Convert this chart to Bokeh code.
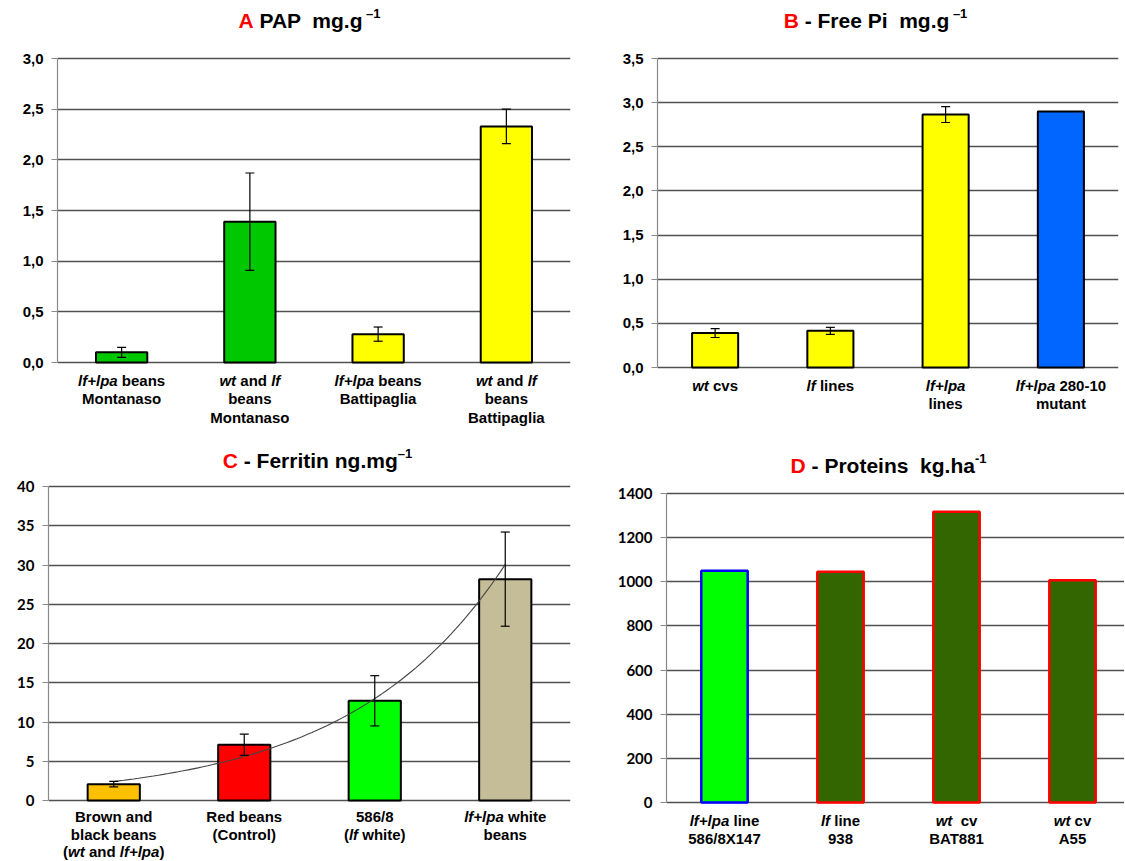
import glob
import re
import numpy as np
from bokeh.plotting import figure
from bokeh.models import (FixedTicker, Range1d, ColumnDataSource, Whisker,
                          TeeHead, CustomJSTickFormatter)
from bokeh.core.properties import value, field
from bokeh.layouts import column, row
from bokeh.embed import file_html
from bokeh.resources import INLINE

# ---------------- data ----------------
positions = [1, 2, 3, 4]

a_values = [0.10, 1.39, 0.28, 2.33]
a_errors = [0.05, 0.48, 0.07, 0.17]
a_colors = ["#00C800", "#00C800", "#FFFF00", "#FFFF00"]
a_ticks = [0, 0.5, 1.0, 1.5, 2.0, 2.5, 3.0]
a_tick_labels = ["0,0", "0,5", "1,0", "1,5", "2,0", "2,5", "3,0"]
a_labels = [
    [[("lf+lpa", "i"), (" beans", "n")], [("Montanaso", "n")]],
    [[("wt", "i"), (" and ", "n"), ("lf", "i")], [("beans", "n")], [("Montanaso", "n")]],
    [[("lf+lpa", "i"), (" beans", "n")], [("Battipaglia", "n")]],
    [[("wt", "i"), (" and ", "n"), ("lf", "i")], [("beans", "n")], [("Battipaglia", "n")]],
]
a_title = [("A", "r"), (" PAP  mg.g", "n"), (" \u20131", "s")]

b_values = [0.39, 0.415, 2.865, 2.90]
b_errors = [0.05, 0.04, 0.09, None]
b_colors = ["#FFFF00", "#FFFF00", "#FFFF00", "#0066FF"]
b_ticks = [0, 0.5, 1.0, 1.5, 2.0, 2.5, 3.0, 3.5]
b_tick_labels = ["0,0", "0,5", "1,0", "1,5", "2,0", "2,5", "3,0", "3,5"]
b_labels = [
    [[("wt", "i"), (" cvs", "n")]],
    [[("lf", "i"), (" lines", "n")]],
    [[("lf+lpa", "i")], [("lines", "n")]],
    [[("lf+lpa", "i"), (" 280-10", "n")], [("mutant", "n")]],
]
b_title = [("B", "r"), (" - Free Pi  mg.g", "n"), (" \u20131", "s")]

c_values = [2.08, 7.1, 12.7, 28.2]
c_errors = [0.35, 1.35, 3.2, 6.0]
c_colors = ["#FFC000", "#FF0000", "#00FF00", "#C4BD97"]
c_ticks = [0, 5, 10, 15, 20, 25, 30, 35, 40]
c_tick_labels = ["0", "5", "10", "15", "20", "25", "30", "35", "40"]
c_labels = [
    [[("Brown and", "n")], [("black beans", "n")],
     [("(", "n"), ("wt", "i"), (" and ", "n"), ("lf+lpa", "i"), (")", "n")]],
    [[("Red beans", "n")], [("(Control)", "n")]],
    [[("586/8", "n")], [("(", "n"), ("lf", "i"), (" white)", "n")]],
    [[("lf+lpa", "i"), (" white", "n")], [("beans", "n")]],
]
c_title = [("C", "r"), (" - Ferritin ng.mg", "n"), ("\u20131", "s")]

d_values = [1050, 1045, 1317, 1007]
d_fill = ["#00FF00", "#336600", "#336600", "#336600"]
d_line = ["#0000FF", "#FF0000", "#FF0000", "#FF0000"]
d_ticks = [0, 200, 400, 600, 800, 1000, 1200, 1400]
d_tick_labels = ["0", "200", "400", "600", "800", "1000", "1200", "1400"]
d_labels = [
    [[("lf+lpa", "i"), (" line", "n")], [("586/8X147", "n")]],
    [[("lf", "i"), (" line", "n")], [("938", "n")]],
    [[("wt", "i"), ("  cv", "n")], [("BAT881", "n")]],
    [[("wt", "i"), (" cv", "n")], [("A55", "n")]],
]
d_title = [("D", "r"), (" - Proteins  kg.ha", "n"), ("-1", "s")]

# ---------------- text measuring ----------------
_font_cache = {}


def _font_path(italic):
    name = "LiberationSans-BoldItalic.ttf" if italic else "LiberationSans-Bold.ttf"
    for base in ("/usr/share/fonts", "/usr/local/share/fonts", "/usr/lib"):
        hits = glob.glob(base + "/**/" + name, recursive=True)
        if hits:
            return hits[0]
    return None


def text_width(text, size, italic=False):
    if not text:
        return 0.0
    key = (size, italic)
    if key not in _font_cache:
        f = None
        try:
            from PIL import ImageFont
            path = _font_path(italic)
            if path:
                f = ImageFont.truetype(path, size)
        except Exception:
            f = None
        _font_cache[key] = f
    f = _font_cache[key]
    if f is not None:
        try:
            return f.getlength(text)
        except Exception:
            pass
    return len(text) * size * 0.58


FONT = "Liberation Sans"


class Panel:
    def __init__(self, fig_left, fig_top, w, h, bl, br, y0px, ytop_px, ytop_val,
                 spacing, ticks, tick_labels, tick_font, tick_size):
        self.fl = fig_left + bl
        fw = w - bl - br
        self.sx = spacing
        self.y0px = y0px
        self.sy = (y0px - ytop_px) / ytop_val
        xr = (0.5, 0.5 + fw / spacing)
        yr = (-(fig_top + h - y0px) / self.sy, (y0px - fig_top) / self.sy)
        p = figure(width=w, height=h, x_range=Range1d(*xr), y_range=Range1d(*yr),
                   output_backend="svg", toolbar_location=None, tools="", title=None)
        p.min_border_left = bl
        p.min_border_right = br
        p.min_border_top = 0
        p.min_border_bottom = 0
        p.outline_line_color = None
        p.background_fill_color = "white"
        p.border_fill_color = "white"
        p.xaxis.visible = False
        p.xgrid.visible = False
        p.ygrid.grid_line_color = "#505050"
        p.ygrid.grid_line_width = 1.4
        p.yaxis.ticker = FixedTicker(ticks=ticks)
        p.yaxis.bounds = (0, ytop_val)
        p.yaxis.formatter = CustomJSTickFormatter(
            args=dict(tvals=ticks, tlabels=tick_labels),
            code="const i = tvals.findIndex(t => Math.abs(t - tick) < 1e-9); return i >= 0 ? tlabels[i] : '';")
        p.yaxis.axis_line_color = "#8a8a8a"
        p.yaxis.axis_line_width = 1.2
        p.yaxis.major_tick_line_color = "#8a8a8a"
        p.yaxis.major_tick_in = 0
        p.yaxis.major_tick_out = 6
        p.yaxis.minor_tick_line_color = None
        p.yaxis.major_label_text_font = tick_font
        p.yaxis.major_label_text_font_style = "bold"
        p.yaxis.major_label_text_font_size = f"{tick_size}px"
        p.yaxis.major_label_text_color = "black"
        p.yaxis.major_label_standoff = 8
        self.p = p
        self.txt = dict(x=[], y=[], text=[], size=[], style=[], color=[])

    def px2x(self, px):
        return 0.5 + (px - self.fl) / self.sx

    def x2px(self, x):
        return self.fl + (x - 0.5) * self.sx

    def py2y(self, py):
        return (self.y0px - py) / self.sy

    def segments(self, cx_px, cy_px, segs, size, sup_size=None, sup_dy=7):
        parts = []
        for t, st in segs:
            sz = sup_size if st == "s" else size
            parts.append((t, st, sz, text_width(t, sz, st == "i")))
        total = sum(w for *_, w in parts)
        cur = cx_px - total / 2.0
        for t, st, sz, w in parts:
            it = st == "i"
            # place every word on its own so that runs of spaces keep their width
            for m in re.finditer(r"\S+", t):
                self.txt["x"].append(self.px2x(cur + text_width(t[: m.start()], sz, it)))
                self.txt["y"].append(self.py2y(cy_px - (sup_dy if st == "s" else 0)))
                self.txt["text"].append(m.group(0))
                self.txt["size"].append(f"{sz}px")
                self.txt["style"].append("bold italic" if it else "bold")
                self.txt["color"].append("#FF0000" if st == "r" else "black")
            cur += w

    def bars(self, values, fills, lines, lw, errors=None):
        src = ColumnDataSource(dict(x=positions, top=values, fill=fills, line=lines))
        self.p.vbar(x="x", top="top", width=0.4, bottom=0, fill_color="fill",
                    line_color="line", line_width=lw, source=src)
        if errors is not None:
            xs, up, lo = [], [], []
            for x, v, e in zip(positions, values, errors):
                if e is None:
                    continue
                xs.append(x)
                up.append(v + e)
                lo.append(v - e)
            es = ColumnDataSource(dict(x=xs, upper=up, lower=lo))
            self.p.add_layout(Whisker(source=es, base="x", upper="upper", lower="lower",
                                      level="overlay", line_color="black", line_width=1.2,
                                      upper_head=TeeHead(size=9, line_color="black", line_width=1.2),
                                      lower_head=TeeHead(size=9, line_color="black", line_width=1.2)))

    def cat_labels(self, labels, rows_px, size=15):
        for x, lines in zip(positions, labels):
            for li, segs in enumerate(lines):
                self.segments(self.x2px(x), rows_px[li], segs, size)

    def title(self, cx, cy, segs):
        self.segments(cx, cy, segs, 21, sup_size=13, sup_dy=7)

    def finish(self):
        src = ColumnDataSource(self.txt)
        self.p.text(x="x", y="y", text="text", source=src, text_font=value(FONT),
                    text_font_size=field("size"), text_font_style=field("style"),
                    text_color=field("color"), text_align="left", text_baseline="middle")
        return self.p


# ---------------- panel A ----------------
A = Panel(0, 0, 571, 444, 57, 1, 362, 58, 3.0, 513 / 4.0, a_ticks, a_tick_labels, FONT, 15)
A.bars(a_values, a_colors, ["black"] * 4, 2, a_errors)
A.cat_labels(a_labels, [380, 398, 417])
A.title(309, 20, a_title)

# ---------------- panel B ----------------
B = Panel(571, 0, 548, 444, 86, 1, 367, 58, 3.5, 461 / 4.0, b_ticks, b_tick_labels, FONT, 15)
B.bars(b_values, b_colors, ["black"] * 4, 2, b_errors)
B.cat_labels(b_labels, [385, 403])
B.title(875, 20, b_title)

# ---------------- panel C ----------------
C = Panel(0, 444, 571, 416, 48, 1, 800, 486, 40, 522 / 4.0, c_ticks, c_tick_labels, "Lato", 15)
C.bars(c_values, c_colors, ["black"] * 4, 2, c_errors)
# exponential trend line fitted to the bar values (as the spreadsheet trendline)
coef = np.polyfit(positions, np.log(c_values), 1)
tx = np.linspace(positions[0], positions[-1], 80)
C.p.line(tx, np.exp(np.polyval(coef, tx)), line_color="#444444", line_width=1.1)
C.cat_labels(c_labels, [816, 834, 851])
C.title(317, 460, c_title)

# ---------------- panel D ----------------
D = Panel(571, 444, 553, 416, 95, 0, 802, 493, 1400, 116.0, d_ticks, d_tick_labels, "Lato", 15)
D.bars(d_values, d_fill, d_line, 2.5)
D.cat_labels(d_labels, [820, 838])
D.title(888, 465, d_title)

layout = column(row(A.finish(), B.finish()), row(C.finish(), D.finish()))
open("out.html", "w").write(file_html(layout, INLINE))
